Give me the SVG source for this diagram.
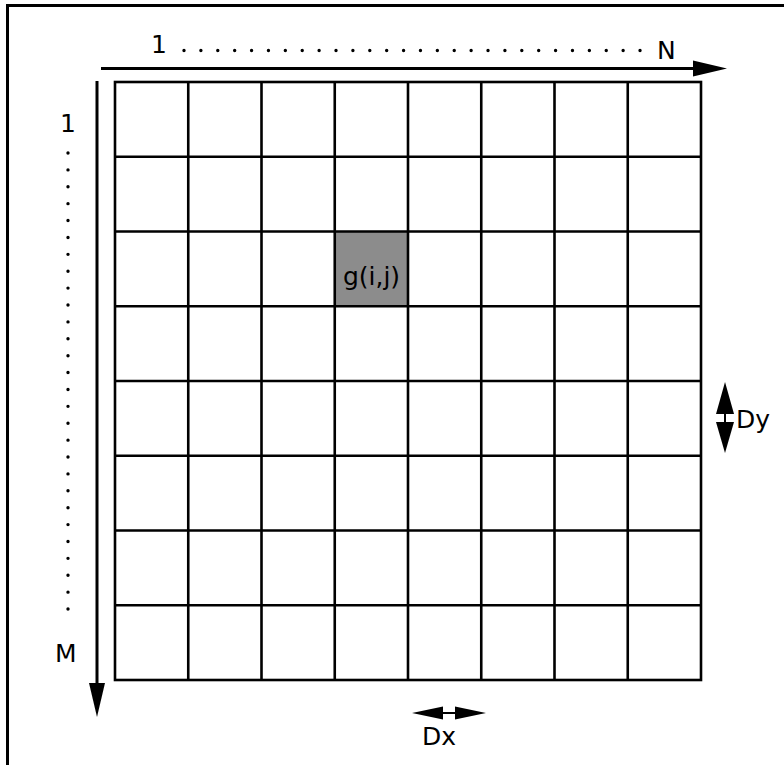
<svg xmlns="http://www.w3.org/2000/svg" width="784" height="765" viewBox="0 0 784 765">
  <defs>
    <style>
      .grid { fill: none; stroke: #000; stroke-width: 2.6; }
      .axis { fill: none; stroke: #000; stroke-width: 3; }
      .dots { fill: none; stroke: #000; stroke-width: 3.4; stroke-linecap: round; stroke-dasharray: 0 16.89; }
      .lbl { font-family: "DejaVu Sans", "Liberation Sans", sans-serif; font-size: 25px; fill: #000; }
      .head { fill: #000; stroke: none; }
    </style>
    <marker id="arrow" markerUnits="userSpaceOnUse" markerWidth="34" markerHeight="17" refX="0" refY="8.5" orient="auto">
      <path d="M0,0.5 L34,8.5 L0,16.5 z" fill="#000"/>
    </marker>
  </defs>
  <rect x="0" y="0" width="784" height="765" fill="#fff"/>
  <rect id="frame" x="7.5" y="5.5" width="780" height="765" fill="none" stroke="#000" stroke-width="3"/>

  <g id="grid">
    <rect id="cell-gij" x="334.75" y="231.5" width="73.25" height="74.75" fill="#8c8c8c"/>
    <rect class="grid" x="115" y="82" width="586" height="598"/>
    <path class="grid" d="M188.25,82V680 M261.5,82V680 M334.75,82V680 M408,82V680 M481.25,82V680 M554.5,82V680 M627.75,82V680
      M115,156.75H701 M115,231.5H701 M115,306.25H701 M115,381H701 M115,455.75H701 M115,530.5H701 M115,605.25H701"/>
    <text class="lbl" x="371.5" y="285" font-size="24" text-anchor="middle">g(i,j)</text>
  </g>

  <g id="connectors">
    <line class="axis" x1="101" y1="68.5" x2="693" y2="68.5" marker-end="url(#arrow)"/>
    <line class="axis" x1="97" y1="81" x2="97" y2="683" marker-end="url(#arrow)"/>
    <line class="dots" x1="184" y1="50.5" x2="640.1" y2="50.5"/>
    <line class="dots" x1="68" y1="153" x2="68" y2="609.1"/>
    <g id="dy-arrow">
      <polygon class="head" points="725,382 734,414 716,414"/>
      <rect class="head" x="724" y="413" width="2" height="11"/>
      <polygon class="head" points="725,453 734,422 716,422"/>
    </g>
    <g id="dx-arrow">
      <polygon class="head" points="412,713 443,706.5 443,719.5"/>
      <rect class="head" x="442" y="712" width="14" height="2"/>
      <polygon class="head" points="486,713 455,706.5 455,719.5"/>
    </g>
  </g>

  <g id="labels">
    <text class="lbl" x="151" y="53" font-size="28">1</text>
    <text class="lbl" x="657" y="59">N</text>
    <text class="lbl" x="60" y="132" font-size="27">1</text>
    <text class="lbl" x="55" y="662">M</text>
    <text class="lbl" x="736" y="428">Dy</text>
    <text class="lbl" x="422" y="745">Dx</text>
  </g>
</svg>
